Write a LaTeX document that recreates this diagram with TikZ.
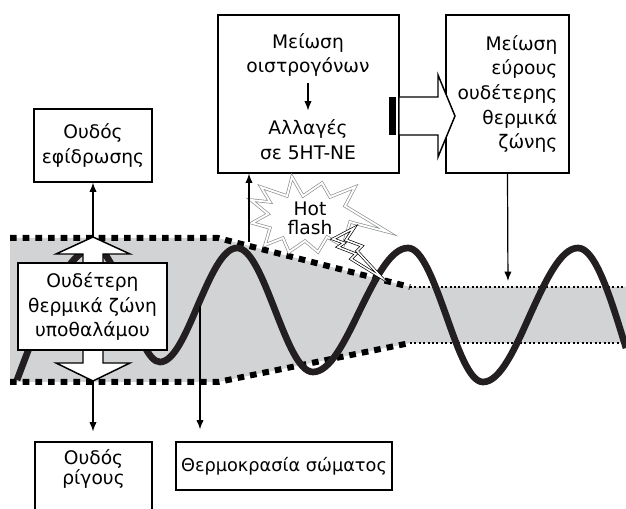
\documentclass[tikz,border=0pt]{standalone}
\usepackage{fontspec}
\setmainfont{DejaVu Sans}
\usetikzlibrary{arrows.meta,positioning}
\definecolor{bandGray}{HTML}{D1D3D4}
\definecolor{waveInk}{HTML}{231F20}
\definecolor{flashGray}{HTML}{8A8C8E}
\tikzset{
  >={Latex[length=7pt,width=5.5pt]},
  box/.style={rectangle, draw=black, line width=0.9pt, fill=white, align=center,
              inner sep=0pt, font=\fontsize{14}{18.5}\selectfont},
  lbl/.style={align=center, inner sep=0pt, font=\fontsize{14}{18.5}\selectfont},
  arr/.style={->, line width=0.9pt},
  thickdash/.style={line width=4.5pt, dash pattern=on 5pt off 4.5pt},
  thindots/.style={line width=1.5pt, dash pattern=on 1.5pt off 1.8pt},
  wave/.style={line width=5pt, draw=waveInk},
  block/.style={fill=white, draw=black, line width=1.1pt, line join=miter},
  flash/.style={draw=flashGray, line width=0.5pt, double=white, double distance=1.4pt, line join=miter},
  bolt/.style={draw=black, line width=0.5pt, double=white, double distance=1.2pt, line join=miter},
}

\begin{document}
\begin{tikzpicture}[x=0.75pt, y=-0.75pt]
  \useasboundingbox (0,0) rectangle (626,509);

  % neutral zone band
  \fill[bandGray] (10,238) -- (218,238) -- (410,287) -- (626,287) -- (626,343)
    -- (410,343) -- (218,382) -- (10,382) -- cycle;
  \draw[thickdash] (10,238) -- (218,238) -- (410,287);
  \draw[thickdash] (10,382) -- (218,382) -- (410,343);
  \draw[thindots] (410,287) -- (626,287);
  \draw[thindots] (410,343) -- (626,343);

  % body temperature
  \draw[wave] (17,380) sin (95,248) cos (128,305) sin (160,362) cos (198,305)
    sin (237,248) cos (275,310) sin (313,372) cos (360,310) sin (408,248)
    cos (446,315) sin (483,382) cos (530,315) sin (578,248) cos (626,348);

  % range arrow
  \draw[block] (93,237) -- (130,254) -- (103,254) -- (103,363) -- (130,363)
    -- (93,381) -- (56,363) -- (83,363) -- (83,254) -- (56,254) -- cycle;
  \coordinate (rtop) at (93,237);
  \coordinate (rbot) at (93,381);
  \coordinate (tbody) at (200,306);
  \coordinate (hfbase) at (249,242);
  \coordinate (nbandtop) at (508,287);

  \node[box, minimum width=111.75pt, minimum height=65.25pt] (neutral) at (92.5,306.5)
    {Ουδέτερη\\θερμικά ζώνη\\υποθαλάμου};
  \node[box, minimum width=88.5pt, minimum height=54.75pt] (sweat) at (93,145.5)
    {Ουδός\\εφίδρωσης};
  \node[box, minimum width=87.75pt, minimum height=58.5pt] (shiver) at (93.5,481) {};
  \node[lbl, font=\fontsize{14}{15}\selectfont, below=6pt of shiver.north] (shivertxt)
    {Ουδός\\ρίγους};
  \node[box, minimum width=162pt, minimum height=36pt, font=\fontsize{13.3}{16}\selectfont]
    (bodytemp) at (284,466) {Θερμοκρασία σώματος};

  \node[box, minimum width=135.75pt, minimum height=118.5pt] (estro) at (308.5,94) {};
  \node[lbl] (estro1) at (308,55) {Μείωση\\οιστρογόνων};
  \node[lbl] (estro2) at (308,140) {Αλλαγές\\σε 5HT-NE};
  \node[box, align=right, minimum width=92.25pt, minimum height=118.5pt] (narrow) at (507.5,94)
    {Μείωση\\εύρους\\ουδέτερης\\θερμικά\\ζώνης};

  % striped arrow
  \fill (389,97) rectangle (396,135);
  \draw[block] (399,97) -- (438,97) -- (438,75) -- (455,116) -- (438,157)
    -- (438,135) -- (399,135) -- cycle;

  % hot flash
  \draw[flash] (292,177) -- (303,196) -- (322,183) -- (330,197) -- (355,187)
    -- (345,206) -- (388,232) -- (350,222) -- (343,246) -- (327,237)
    -- (318,252) -- (305,241) -- (289,252) -- (283,238) -- (265,245)
    -- (270,228) -- (252,223) -- (268,214) -- (251,200) -- (270,202)
    -- (261,187) -- (287,196) -- cycle;
  \node[lbl, font=\fontsize{14}{14.5}\selectfont] (hotflash) at (310,218) {Hot\\flash};
  \draw[bolt] (333,239) -- (354,228) -- (346,240) -- (362,246) -- (357,251)
    -- (382,278) -- (351,259) -- (356,254) -- (338,247) -- (344,243) -- cycle;

  % connectors
  \draw[arr] (rtop) -- (sweat.south);
  \draw[arr, shorten >=7.5pt] (rbot) -- (rbot |- shiver.north);
  \draw[arr, shorten >=9pt] (tbody) -- (tbody |- bodytemp.north);
  \draw[arr] (hfbase) -- (hfbase |- estro.south);
  \draw[arr, shorten >=4.5pt] (narrow.south) -- (nbandtop);
  \draw[arr, shorten <=4.5pt, shorten >=7pt] (estro1) -- (estro2);
\end{tikzpicture}
\end{document}
